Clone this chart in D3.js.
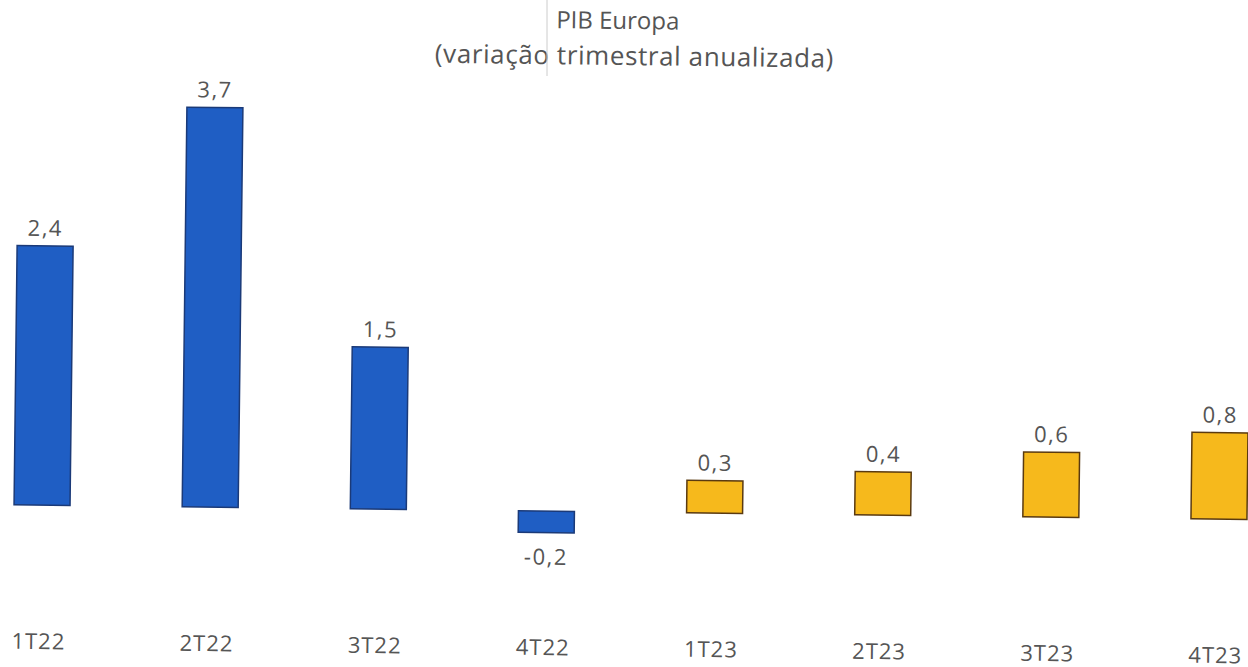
<!DOCTYPE html>
<html>
<head>
<meta charset="utf-8">
<script src="https://cdn.jsdelivr.net/npm/d3@7"></script>
<style>
  body { margin: 0; background: #fff; }
  text { font-family: "Open Sans", "DejaVu Sans", sans-serif; fill: #555; }
</style>
</head>
<body>
<div id="chart"></div>
<script>
// Data
const quarters = ['1T22', '2T22', '3T22', '4T22', '1T23', '2T23', '3T23', '4T23'];
const values = [2.4, 3.7, 1.5, -0.2, 0.3, 0.4, 0.6, 0.8];
const seriesColor = ['#1f5ec4', '#1f5ec4', '#1f5ec4', '#1f5ec4', '#f6b91c', '#f6b91c', '#f6b91c', '#f6b91c'];
const titleLines = ['PIB Europa', '(variação trimestral anualizada)'];

const W = 1248, H = 667;
const baseY = 512;

const svg = d3.select('#chart').append('svg')
    .attr('width', W)
    .attr('height', H);

// scan is slightly tilted
const g = svg.append('g')
    .attr('transform', `rotate(0.68, 624, ${baseY})`);

const x = d3.scalePoint()
    .domain(quarters)
    .range([42, 1219]);

const y = d3.scaleLinear()
    .domain([-0.2, 3.7])
    .range([baseY + 21.6, baseY - 399.6]);

const barW = 56;
const data = quarters.map((q, i) => ({ q, v: values[i], c: seriesColor[i] }));

g.selectAll('.bar')
    .data(data)
    .enter().append('rect')
    .attr('class', 'bar')
    .attr('x', d => x(d.q) - barW / 2)
    .attr('y', d => y(Math.max(0, d.v)))
    .attr('width', barW)
    .attr('height', d => Math.abs(y(d.v) - y(0)))
    .attr('fill', d => d.c)
    .attr('stroke', (d, i) => i >= 4 ? '#5a3a10' : '#1b3a78')
    .attr('stroke-width', 1.5);

// value labels
g.selectAll('.val')
    .data(data)
    .enter().append('text')
    .attr('class', 'val')
    .attr('x', d => x(d.q))
    .attr('y', d => d.v >= 0 ? y(d.v) - 10 : y(d.v) + 32)
    .attr('text-anchor', 'middle')
    .attr('font-size', 22)
    .attr('letter-spacing', 1.5)
    .text(d => d3.format('.1f')(d.v).replace('.', ',').replace('−', '-'));

// category labels
g.selectAll('.cat')
    .data(quarters)
    .enter().append('text')
    .attr('class', 'cat')
    .attr('x', d => x(d) - 2)
    .attr('y', baseY + 144)
    .attr('text-anchor', 'middle')
    .attr('font-size', 22)
    .attr('letter-spacing', 1)
    .text(d => d);

// title
g.selectAll('.title')
    .data(titleLines)
    .enter().append('text')
    .attr('class', 'title')
    .attr('x', (d, i) => i === 0 ? 612 : 629)
    .attr('y', (d, i) => 29 + i * 36)
    .attr('text-anchor', 'middle')
    .attr('font-size', (d, i) => i === 0 ? 24 : 26)
    .attr('letter-spacing', (d, i) => i === 0 ? 0 : 0.6)
    .text(d => d);

// faint scan line
svg.append('line')
    .attr('x1', 547).attr('x2', 547)
    .attr('y1', 0).attr('y2', 76)
    .attr('stroke', '#ccc')
    .attr('stroke-width', 1);
</script>
</body>
</html>
